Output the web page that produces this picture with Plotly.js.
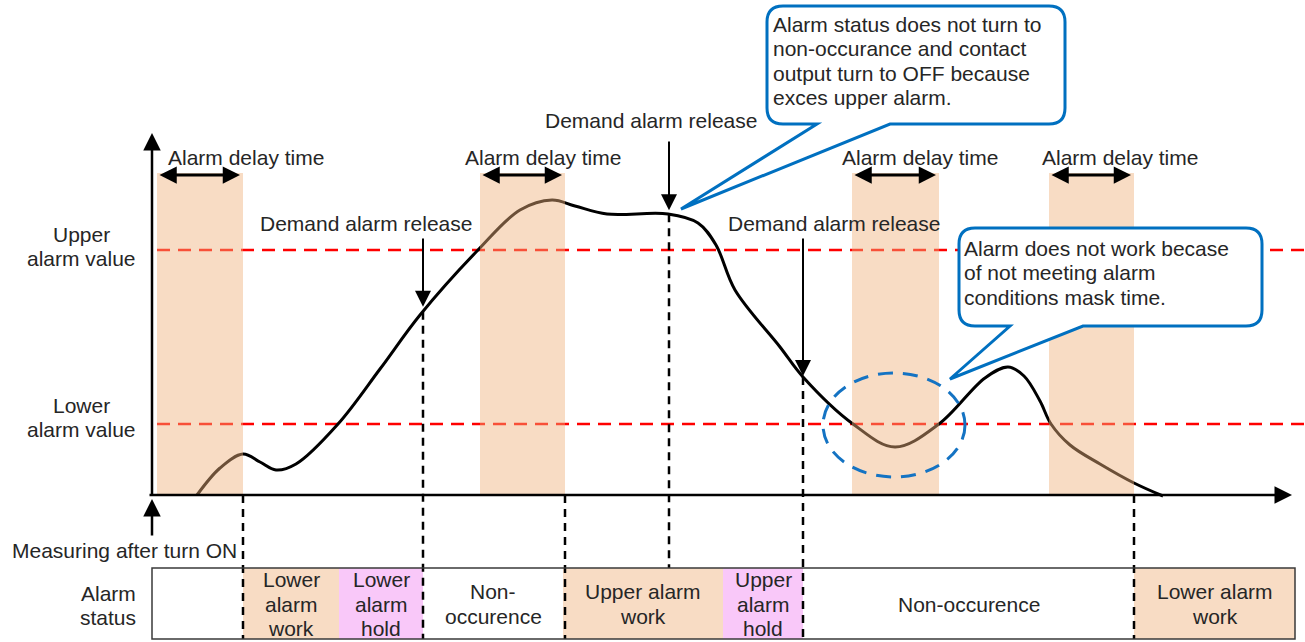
<!DOCTYPE html>
<html><head><meta charset="utf-8">
<script src="https://cdn.plot.ly/plotly-3.0.1.min.js"></script>
<style>html,body{margin:0;padding:0;background:#fff}#chart{width:1305px;height:642px}</style>
</head><body><div id="chart"></div>
<script>
// ---- data (time in px-units along the axis, value above baseline) ----
const timeX = [197,220,243,260,276,296,338,380,420,478,520,552,575,607,668,698,716,735,780,803,853,895,939,985,1008,1024,1040,1051,1070,1100,1134,1163];
const measured = [0,27,41,33,25,31,71,126,180,245,285,295,289,281,281,272,250,205,148,118,71,48,71,117,128,119,94,71,50,31,12,-1];
const upperAlarm = 245;
const lowerAlarm = 71;
const delayStart = [157,480,852,1049];
const delayEnd   = [243,565,939,1134];
const releaseTimes = [423,669,803];
const statusStart = [152,243,339,423,563,723,803,1134];
const statusEnd   = [243,339,423,563,723,803,1134,1295];
const statusKind  = ['none','work','hold','none','work','hold','none','work'];
const statusLabels = [[],['Lower','alarm','work'],['Lower','alarm','hold'],['Non-','occurence'],['Upper alarm','work'],['Upper','alarm','hold'],['Non-occurence'],['Lower alarm','work']];
const callout1 = ['Alarm status does not turn to','non-occurance and contact','output turn to OFF because','exces upper alarm.'];
const callout2 = ['Alarm does not work becase','of not meeting alarm','conditions mask time.'];

// ---- helpers ----
const P = py => 495 - py;  // page row -> value units
const FONT = 'Liberation Sans, Arial, sans-serif';
const TXT = '#262626';
const BLUE = 'rgb(0,112,192)';
const PEACH = 'rgb(248,220,196)';
const PINK = 'rgb(249,200,249)';
const FS = 21;
const shapes = [];
const ann = [];

function text(t, x, y, anchor, size){
  ann.push({x:x, y:P(y), text:t, showarrow:false, xanchor:anchor||'center', yanchor:'middle',
    font:{family:FONT, size:size||FS, color:TXT}});
}
function arrow(x, y, ax, ay, opts){
  ann.push(Object.assign({x:x, y:y, ax:ax, ay:ay, axref:'x', ayref:'y', xref:'x', yref:'y', text:'',
    showarrow:true, arrowhead:2, arrowsize:1.3, arrowwidth:2.5, arrowcolor:'#000', standoff:0, startstandoff:0}, opts||{}));
}
function callout(x0, y0, x1, y1, r, bA, bB, tx, ty){
  const p = (x,y)=> x + ',' + P(y);
  const d = 'M' + p(x0+r,y0) + ' L' + p(x1-r,y0) + ' Q' + p(x1,y0) + ' ' + p(x1,y0+r) +
    ' L' + p(x1,y1-r) + ' Q' + p(x1,y1) + ' ' + p(x1-r,y1) +
    ' L' + p(bB,y1) + ' L' + p(tx,ty) + ' L' + p(bA,y1) +
    ' L' + p(x0+r,y1) + ' Q' + p(x0,y1) + ' ' + p(x0,y1-r) +
    ' L' + p(x0,y0+r) + ' Q' + p(x0,y0) + ' ' + p(x0+r,y0) + ' Z';
  shapes.push({type:'path', path:d, xref:'x', yref:'y', layer:'above', fillcolor:'#fff', line:{color:BLUE, width:3}});
}

// status bar fills (below)
statusStart.forEach((s,i)=>{
  if(statusKind[i]==='none') return;
  shapes.push({type:'rect', xref:'x', yref:'y', x0:s, x1:statusEnd[i], y0:P(639), y1:P(568), layer:'below',
    fillcolor: statusKind[i]==='work'?PEACH:PINK, line:{width:0}});
});
// alarm threshold lines
[upperAlarm, lowerAlarm].forEach(v=>{
  shapes.push({type:'line', xref:'x', yref:'y', x0:157, x1:1305, y0:v, y1:v, layer:'below',
    line:{color:'rgb(255,0,0)', width:2.5, dash:'13px,8px'}});
});
// vertical dashed guides
function interp(t){
  for(let i=1;i<timeX.length;i++){ if(t<=timeX[i]){ const f=(t-timeX[i-1])/(timeX[i]-timeX[i-1]); return measured[i-1]+f*(measured[i]-measured[i-1]); } }
  return 0;
}
const guides = [[delayEnd[0],0,P(639)],[releaseTimes[0],interp(releaseTimes[0]),P(639)],[delayEnd[1],0,P(639)],
  [releaseTimes[1],interp(releaseTimes[1]),P(568)],[releaseTimes[2],interp(releaseTimes[2]),P(639)],[delayEnd[3],0,P(639)]];
guides.forEach(g=>{
  shapes.push({type:'line', xref:'x', yref:'y', x0:g[0], x1:g[0], y0:g[1], y1:g[2], layer:'below',
    line:{color:'#000', width:2.5, dash:'8px,6px'}});
});
// alarm delay bands (translucent, above the curve)
delayStart.forEach((s,i)=>{
  shapes.push({type:'rect', xref:'x', yref:'y', x0:s, x1:delayEnd[i], y0:0, y1:P(173), layer:'above',
    fillcolor:'rgba(240,178,124,0.45)', line:{width:0}});
});
// status bar border
shapes.push({type:'rect', xref:'x', yref:'y', x0:152, x1:1295, y0:P(639), y1:P(568), layer:'above',
  line:{color:'#3a3a3a', width:1.5}});
// dashed ellipse
shapes.push({type:'circle', xref:'x', yref:'y', x0:823, x1:965, y0:P(477), y1:P(373), layer:'above',
  line:{color:'rgb(20,115,195)', width:3, dash:'15px,10px'}});
// callouts
callout(767, 6, 1065, 124, 16, 817, 890, 681, 209);
callout(959, 228, 1262, 326, 16, 1010, 1083, 950, 379);

// axes arrows
arrow(152, P(133), 152, P(497), {arrowsize:1.4});
arrow(1292, 0, 148, 0, {arrowsize:1.4});
arrow(152, P(499), 152, P(537), {arrowsize:1.4});
// delay double arrows
delayStart.forEach((s,i)=>{
  arrow(delayEnd[i]-3, P(175), s+1, P(175), {arrowside:'end+start', arrowwidth:3, arrowsize:1.15});
});
// demand release arrows
arrow(releaseTimes[0], interp(releaseTimes[0])+5, releaseTimes[0], P(237), {arrowwidth:2, arrowsize:1.6});
arrow(releaseTimes[1], interp(releaseTimes[1])+4, releaseTimes[1], P(140), {arrowwidth:2, arrowsize:1.6});
arrow(releaseTimes[2], interp(releaseTimes[2])+1, releaseTimes[2], P(237), {arrowwidth:2, arrowsize:1.6});

// texts
[166,463,840,1040].forEach(x=>text('Alarm delay time', x, 157, 'left'));
text('Demand alarm release', 258, 223, 'left');
text('Demand alarm release', 543, 120, 'left');
text('Demand alarm release', 726, 223, 'left');
callout1.forEach((t,i)=>text(t, 771, 24+24.5*i, 'left'));
callout2.forEach((t,i)=>text(t, 962, 248+24.5*i, 'left'));
text('Upper', 81, 234); text('alarm value', 81, 258);
text('Lower', 81, 405); text('alarm value', 81, 429);
text('Measuring after turn ON', 124, 550);
text('Alarm', 108, 593); text('status', 108, 617);
statusLabels.forEach((lines,i)=>{
  const cx = (statusStart[i]+statusEnd[i])/2;
  const n = lines.length;
  const cy = 604;
  lines.forEach((t,j)=> text(t, cx, cy + (j-(n-1)/2)*24.5));
});

const traces = [{x:timeX, y:measured, type:'scatter', mode:'lines', line:{color:'#000', width:3, shape:'spline', smoothing:1}, hoverinfo:'skip'}];

Plotly.newPlot('chart', traces, {
  width:1305, height:642, margin:{l:0,r:0,t:0,b:0}, showlegend:false,
  paper_bgcolor:'#fff', plot_bgcolor:'#fff',
  xaxis:{range:[0,1305], visible:false, fixedrange:true},
  yaxis:{range:[-147,495], visible:false, fixedrange:true},
  shapes:shapes, annotations:ann
}, {staticPlot:true, displayModeBar:false});
</script></body></html>
